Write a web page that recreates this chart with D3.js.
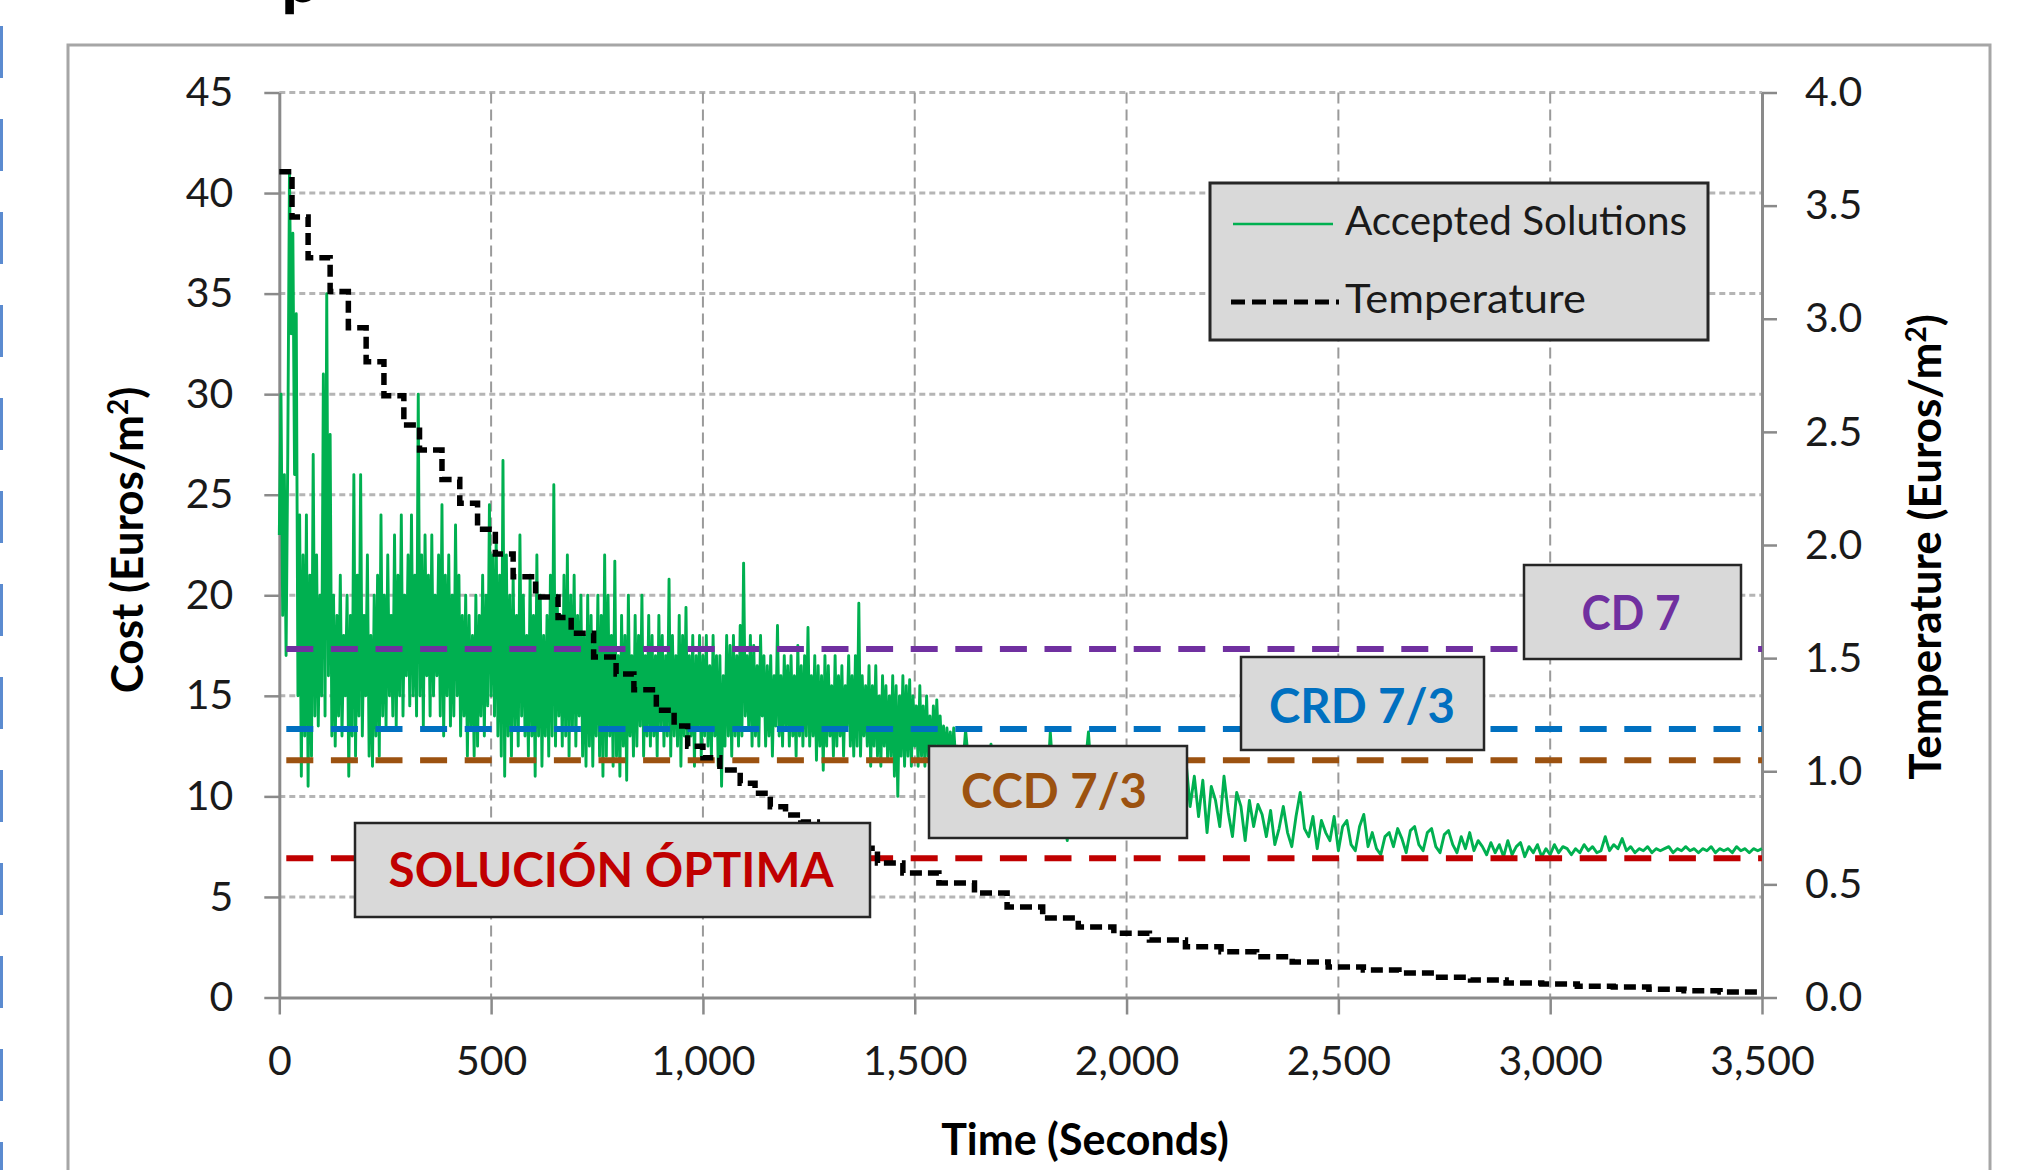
<!DOCTYPE html>
<html><head><meta charset="utf-8">
<script src="https://cdn.jsdelivr.net/npm/d3@7"></script>
<style>
html,body{margin:0;padding:0;background:#fff;}
svg{display:block;}
text{font-family:Lato,"Open Sans",sans-serif;}
</style></head><body>
<svg id="chart" width="2018" height="1170"></svg>
<script>
// ---------------- DATA ----------------
const xTicks = [0, 500, 1000, 1500, 2000, 2500, 3000, 3500];
const costTicks = [0, 5, 10, 15, 20, 25, 30, 35, 40, 45];
const tempTicks = [0, 0.5, 1, 1.5, 2, 2.5, 3, 3.5, 4];
const seriesNames = ["Accepted Solutions", "Temperature"];
const axisTitles = ["Time (Seconds)", "Cost (Euros/m", "Temperature (Euros/m"];

const refLabels = ["CD 7", "CRD 7/3", "CCD 7/3", "SOLUCIÓN ÓPTIMA"];
const refValues = [17.33, 13.35, 11.8, 6.92];

// Temperature (right axis), stepped
const tempTimes = [0,30,68,120,163,205,247,294,331,384,426,468,510,552,605,658,689,742,795,837,
  890,932,964,1000,1040,1088,1123,1159,1195,1231,1270,1310,1350,1412,1472,1557,1641,1718,1802,1886,
  1970,2054,2139,2223,2307,2391,2476,2559,2643,2728,2812,2896,2980,3064,3149,3233,3316,3401,3500];
const tempValues = [3.65,3.45,3.27,3.12,2.96,2.81,2.66,2.53,2.42,2.29,2.185,2.07,1.96,1.86,1.77,1.68,1.61,1.505,1.43,1.36,
  1.27,1.20,1.11,1.06,1.005,0.947,0.903,0.843,0.807,0.776,0.74,0.70,0.66,0.594,0.55,0.506,0.462,0.40,0.351,0.312,
  0.284,0.254,0.224,0.202,0.18,0.157,0.135,0.121,0.108,0.09,0.077,0.064,0.06,0.05,0.046,0.037,0.03,0.024,0.02];

// Accepted solutions (left axis): samples every 4 s from 0 to 1596 s
const accDenseStart = 0, accDenseStep = 4;
const accDense = [
 23,30,19,26,17,27,41,33,38,26,
 34,15,24,11,22,13,24,10.5,21,12,
 27,14,22,13.5,20,15,31,14,35,16,
 28,13,20,12.5,19,14,21,13,18,15,
 20,11,19,13,26,12,21,14,26,13,
 19,15,22,12,18,11.5,20,13,21,12,
 24,14,20,13.5,22,15,19,14,23,13.5,
 21,15,24,14,20,16,22,14.5,24,15,
 21,14,30,15,22,13.5,23,16,21,14,
 23,15,20,16,22,14,24.5,13,21,15,
 22,13.5,20,14,23.5,15,21,13,19,14,
 20,12,19,13.5,18,12,20,12.5,19,14,
 21,13,20,14.5,24.5,15,22,14,23,13,
 21,12,26.7,11,22,13,20,12,21,13.5,
 19,12.5,23,14,20,13,18,12,21,13,
 19,11,22,13,20,11.5,18,13,19,12,
 21,13,25.5,12.5,20,14,19,12.5,21,13,
 22,12,20,13.5,21,12.5,19,14,20,12,
 18,11.5,20,12.5,19,11.5,18,13,20,12,
 19,11,22,12,20,13,18,11.5,21.7,12,
 17,11,19,12.5,18,10.8,20,13,17,12,
 19,12.5,18,13.5,20,12,17,13,19,12.5,
 18,13,17,12,19,13.5,18,12.5,17,13,
 20.8,12,18,13,17,12.5,19,11.5,18,13,
 19.4,12.5,17,13,18,11.5,17,13.5,18,12,
 17,13,18,12.5,16.5,12,18,13,17,11.5,
 17,10.5,16,12.5,18,13,17.5,12,18,13,
 17,12.5,18.5,13,21.6,14,17,13.5,18,12.5,
 17.5,13,16.5,12.5,18,14,17,12.5,16.5,13,
 17,12,16,13.5,18.5,13,16,12.5,17,13.5,
 16.5,12.5,17,13,16,12,17.5,13,16.5,12.5,
 17,13,18.4,12.5,16,13,17,11.8,16.5,12.5,
 16,11.3,17,12.5,16.5,13,15.5,12,17,12.5,
 16,13,16.5,12,15.5,13.5,17,12.5,16,12,
 17,12.5,19.6,12,16,13,15.5,12.5,16.5,11.5,
 15.5,12.5,16.5,12,15,11.5,16,12.5,15.5,11.8,
 15,12,16,11,15.5,10,15,12,16,11.5,
 15.5,12,15.8,11.5,15,12.5,14.5,11.5,15.5,12,
 14.5,11.5,15,12,14,11.5,14.5,12,14.8,12.5,
 14,12,13.5,11.5,13.4,12,13.2,11.5,13.4,12
];
// samples every 10 s from 1600 to 3500 s
const accTailStart = 1600, accTailStep = 10;
const accTail = [
 12.5,10.5,13.3,11,12,10,11.5,9.8,12.6,10.5,
 11.5,10,11,9.5,12,10.2,11,9.8,11.5,10,
 11,9.5,13.2,10,11,9.2,7.8,10.5,11,9.8,
 11,13.2,10,11.5,9.5,11,9,10.5,9.5,11,
 9.5,10.5,9,11,9.5,11.5,9,10.8,9.5,11,
 9.2,11,9.5,11.2,11.8,9.5,11,9,10.8,8.2,
 10.5,9.8,8.5,11,9.2,8,10.2,9.5,7.8,9.8,
 8.5,9.6,9.1,8,9.3,7.6,8.4,9.5,8.2,7.5,
 9,10.2,8.4,8,9,7.4,8.8,8.2,7.8,9,
 7.3,8.5,8.8,7.6,7.3,8.5,9.1,7.5,8.2,7.4,
 7.1,8,8.2,7.5,8.4,7.9,7.2,8.3,8.5,7.6,
 7.3,8.2,8.4,7.5,7.2,8.1,8.3,7.6,7.2,8.0,
 7.4,8.2,7.3,7.8,7.5,7.1,7.7,7.2,7.6,7.0,
 7.8,7.1,7.5,7.7,7.0,7.5,7.2,7.6,7.0,7.4,
 7.1,7.6,7.2,7.5,7.4,7.1,7.4,7.2,7.6,7.3,
 7.5,7.2,7.3,8.0,7.3,7.6,7.4,7.9,7.3,7.5,
 7.2,7.4,7.3,7.5,7.2,7.4,7.3,7.4,7.5,7.2,
 7.4,7.3,7.5,7.3,7.4,7.2,7.4,7.3,7.5,7.2,
 7.4,7.3,7.4,7.2,7.5,7.3,7.4,7.2,7.4,7.3,
 7.4
];

// ---------------- STYLE ----------------
const refColors = ["#7030A0", "#0070C0", "#9C5210", "#C00000"];
const FONT = "Lato, 'Open Sans', sans-serif";
const axisGrey = "#8a8a8a";

// ---------------- DRAW ----------------
const W = 2018, H = 1170;
const svg = d3.select("#chart");
const x = d3.scaleLinear().domain([0, 3500]).range([279.3, 1762]);
const yL = d3.scaleLinear().domain([0, 45]).range([997.5, 92.5]);
const yR = d3.scaleLinear().domain([0, 4]).range([997.5, 92.5]);

// page decorations
svg.append("line").attr("x1", 1.5).attr("x2", 1.5).attr("y1", 26).attr("y2", H)
  .attr("stroke", "#5b8bd0").attr("stroke-width", 3).attr("stroke-dasharray", "52,41");
svg.append("rect").attr("x", 68).attr("y", 45).attr("width", 1922).attr("height", 1200)
  .attr("fill", "#fff").attr("stroke", "#a6a6a6").attr("stroke-width", 3);
svg.append("text").attr("x", 281).attr("y", 2).attr("font-size", 70).attr("font-weight", 700)
  .attr("fill", "#000").text("p");

// gridlines
svg.append("g").selectAll("line").data(costTicks.filter(d => d > 0)).join("line")
  .attr("x1", x(0)).attr("x2", x(3500)).attr("y1", d => yL(d)).attr("y2", d => yL(d))
  .attr("stroke", "#b5b5b5").attr("stroke-width", 3).attr("stroke-dasharray", "6,4");
svg.append("g").selectAll("line").data(xTicks.filter(d => d > 0 && d < 3500)).join("line")
  .attr("x1", d => x(d)).attr("x2", d => x(d)).attr("y1", yL(45)).attr("y2", yL(0))
  .attr("stroke", "#9a9a9a").attr("stroke-width", 2).attr("stroke-dasharray", "11,6");

// axes
function styleAxis(g) {
  g.attr("font-family", FONT).attr("font-size", 41);
  g.select(".domain").attr("stroke", axisGrey).attr("stroke-width", 3);
  g.selectAll(".tick line").attr("stroke", axisGrey).attr("stroke-width", 2.5);
  g.selectAll(".tick text").attr("fill", "#1a1a1a");
}
svg.append("g").attr("transform", `translate(${x(0)},0)`)
  .call(d3.axisLeft(yL).tickValues(costTicks).tickSizeInner(15).tickSizeOuter(0).tickPadding(31).tickFormat(d3.format("d")))
  .call(styleAxis);
svg.append("g").attr("transform", `translate(${x(3500)},0)`)
  .call(d3.axisRight(yR).tickValues(tempTicks).tickSizeInner(15).tickSizeOuter(0).tickPadding(28).tickFormat(d3.format(".1f")))
  .call(styleAxis);
svg.append("g").attr("transform", `translate(0,${yL(0)})`)
  .call(d3.axisBottom(x).tickValues(xTicks).tickSizeInner(17).tickSizeOuter(0).tickPadding(31).tickFormat(d3.format(",")))
  .call(styleAxis);

// axis titles
svg.append("text").attr("x", 1085).attr("y", 1155).attr("text-anchor", "middle")
  .attr("font-size", 43).attr("font-weight", 700).attr("fill", "#000").text(axisTitles[0]);
function rotTitle(cx, cy, label) {
  const t = svg.append("text").attr("transform", `translate(${cx},${cy}) rotate(-90)`)
    .attr("text-anchor", "middle").attr("font-size", 44).attr("font-weight", 700).attr("fill", "#000");
  t.append("tspan").text(label);
  t.append("tspan").attr("dy", -15).attr("font-size", 28).text("2");
  t.append("tspan").attr("dy", 15).text(")");
}
rotTitle(143, 540, axisTitles[1]);
rotTitle(1941, 547, axisTitles[2]);

// accepted solutions
const accPoints = accDense.map((v, i) => ({ t: accDenseStart + i * accDenseStep, v }))
  .concat(accTail.map((v, i) => ({ t: accTailStart + i * accTailStep, v })));
svg.append("path").datum(accPoints)
  .attr("d", d3.line().x(d => x(d.t)).y(d => yL(d.v)))
  .attr("fill", "none").attr("stroke", "#00B050").attr("stroke-width", 2.9).attr("stroke-linejoin", "round");

// reference lines
svg.append("g").selectAll("line").data(refValues).join("line")
  .attr("x1", x(0) + 7).attr("x2", x(3500)).attr("y1", d => yL(d)).attr("y2", d => yL(d))
  .attr("stroke", (d, i) => refColors[i]).attr("stroke-width", 6).attr("stroke-dasharray", "27,17.6");

// temperature
svg.append("path").datum(d3.zip(tempTimes, tempValues))
  .attr("d", d3.line().curve(d3.curveStepAfter).x(d => x(d[0])).y(d => yR(d[1])))
  .attr("fill", "none").attr("stroke", "#000").attr("stroke-width", 5.5).attr("stroke-dasharray", "12,6");

// annotation boxes
const boxLayout = [
  { x: 1524, y: 565, w: 217, h: 94, tx: 1631, ty: 630, tl: 99 },
  { x: 1241, y: 657, w: 243, h: 93, tx: 1362, ty: 723, tl: 186 },
  { x: 929, y: 746, w: 258, h: 92, tx: 1054, ty: 808, tl: 186 },
  { x: 355, y: 823, w: 515, h: 94, tx: 611, ty: 887, tl: 445 }
];
const ann = svg.append("g").selectAll("g").data(refLabels).join("g");
ann.append("rect").attr("x", (d, i) => boxLayout[i].x).attr("y", (d, i) => boxLayout[i].y)
  .attr("width", (d, i) => boxLayout[i].w).attr("height", (d, i) => boxLayout[i].h)
  .attr("fill", "#d9d9d9").attr("stroke", "#262626").attr("stroke-width", 2.5);
ann.append("text").attr("x", (d, i) => boxLayout[i].tx).attr("y", (d, i) => boxLayout[i].ty)
  .attr("text-anchor", "middle").attr("font-size", 48).attr("font-weight", 700).attr("fill", (d, i) => refColors[i])
  .attr("textLength", (d, i) => boxLayout[i].tl).attr("lengthAdjust", "spacingAndGlyphs")
  .text(d => d);

// legend
const lg = svg.append("g");
lg.append("rect").attr("x", 1210).attr("y", 183).attr("width", 498).attr("height", 157)
  .attr("fill", "#d9d9d9").attr("stroke", "#262626").attr("stroke-width", 3);
lg.append("line").attr("x1", 1233).attr("x2", 1333).attr("y1", 224).attr("y2", 224)
  .attr("stroke", "#00B050").attr("stroke-width", 2.5);
lg.append("line").attr("x1", 1231).attr("x2", 1339).attr("y1", 302).attr("y2", 302)
  .attr("stroke", "#000").attr("stroke-width", 5).attr("stroke-dasharray", "14,7");
lg.append("text").attr("x", 1345).attr("y", 235).attr("font-size", 40).attr("fill", "#1a1a1a")
  .attr("textLength", 342).attr("lengthAdjust", "spacingAndGlyphs").text(seriesNames[0]);
lg.append("text").attr("x", 1345).attr("y", 313).attr("font-size", 40).attr("fill", "#1a1a1a")
  .attr("textLength", 241).attr("lengthAdjust", "spacingAndGlyphs").text(seriesNames[1]);
</script>
</body></html>
